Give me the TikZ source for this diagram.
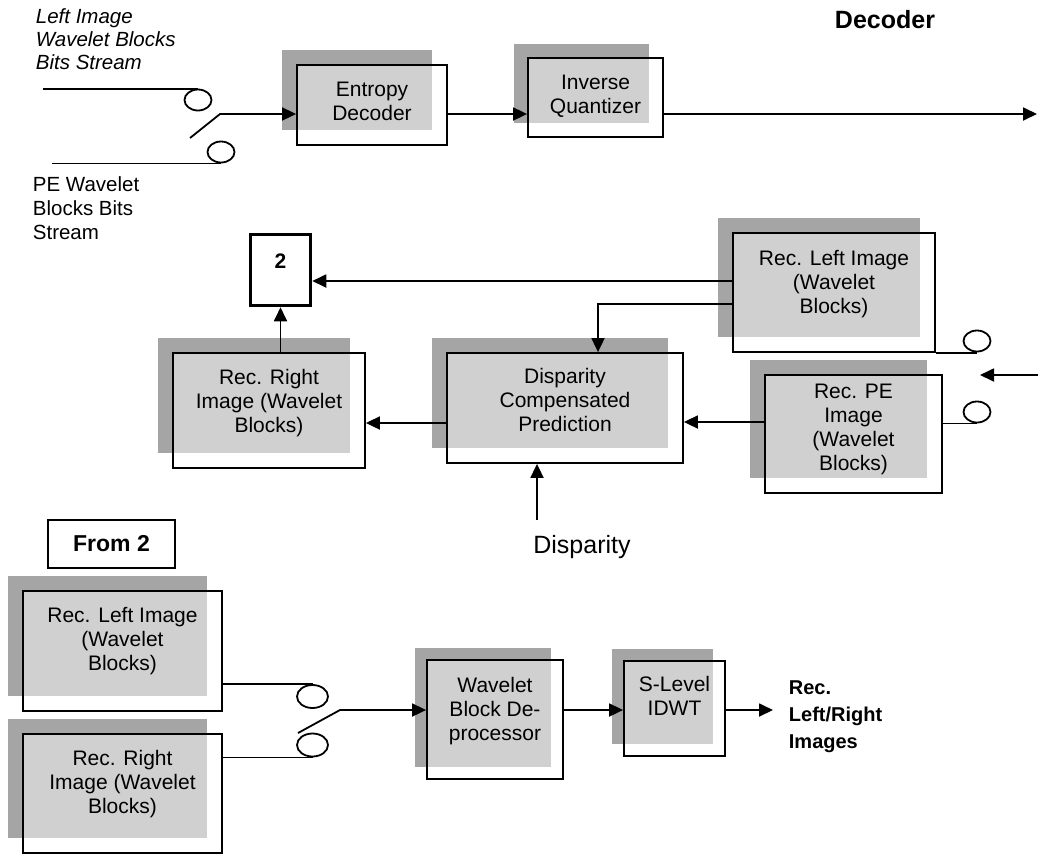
\documentclass[tikz,border=0pt]{standalone}
\usepackage{fontspec}
\setmainfont{Liberation Sans}
\usetikzlibrary{arrows.meta,shapes.geometric,shadows,calc}
\definecolor{shgray}{RGB}{165,165,165}
\definecolor{ovgray}{RGB}{208,208,208}
\newcommand{\bt}[2]{\raisebox{#1pt}[\height][\depth]{\begin{tabular}{@{}c@{}}#2\end{tabular}}}
\begin{document}
\begin{tikzpicture}[x=1pt,y=-1pt,
  line width=1.8pt,
  >={Triangle[length=14pt,width=13pt]},
  blk/.style={draw, rectangle, inner sep=0pt,
    font=\fontsize{21}{24}\selectfont,
    general shadow={fill=shgray, draw=none, shadow xshift=-#1pt, shadow yshift=#1pt},
    path picture={\fill[ovgray] (path picture bounding box.north west) rectangle
      ([xshift=-#1pt,yshift=#1pt]path picture bounding box.south east);}},
  blk/.default=15,
  contact/.style={draw, ellipse, inner sep=0pt, minimum width=27pt, minimum height=21pt},
  txt/.style={inner sep=0pt, font=\fontsize{21}{24}\selectfont},
]
\useasboundingbox (0,0) rectangle (1038,855);

% ---------- top row ----------
\node[blk, minimum width=150pt, minimum height=80pt] (ed) at (372,105) {\bt{1}{Entropy\\Decoder}};
\node[blk=14.5, minimum width=135pt, minimum height=79pt] (iq) at (595.5,97.5) {\bt{1}{Inverse\\Quantizer}};
\node[txt, anchor=base, font=\bfseries\fontsize{25}{30}\selectfont] (dec) at (885,28) {Decoder};
\node[txt, anchor=west, font=\itshape\fontsize{20.5}{23}\selectfont] (lin) at (35,42)
  {\begin{tabular}{@{}l@{}}Left Image\\Wavelet Blocks\\Bits Stream\end{tabular}};
\node[txt, anchor=west, font=\fontsize{20.5}{24}\selectfont] (pein) at (32,211)
  {\begin{tabular}{@{}l@{}}PE Wavelet\\Blocks Bits\\Stream\end{tabular}};

\node[contact] (c1) at (198,100) {};
\node[contact] (c2) at (221,152) {};
\coordinate (a1) at (43,0);
\coordinate (a2) at (52,0);
\draw (a1 |- c1.north) -- (c1.north);
\draw (a2 |- c2.south) -- (c2.south);
\coordinate (l1) at (190,138);
\coordinate (l2) at (220,114);
\draw[->] (l1) -- (l2) -- (l2 -| ed.west);
\draw[->] (ed.east |- l2) -- (iq.west |- l2);
\coordinate (o1) at (1037,114);
\draw[->] (iq.east |- o1) -- (o1);

% ---------- middle row ----------
\node[blk, minimum width=202pt, minimum height=119pt] (rl) at (834,292.5) {\bt{8}{Rec. Left Image\\(Wavelet\\Blocks)}};
\node[blk, minimum width=177pt, minimum height=118pt] (pe) at (853.5,434) {\bt{4}{Rec. PE\\Image\\(Wavelet\\Blocks)}};
\node[blk, minimum width=236pt, minimum height=110pt] (dcp) at (565,408) {\bt{5}{Disparity\\Compensated\\Prediction}};
\node[blk, minimum width=192pt, minimum height=115pt] (rr) at (269,410.5) {\bt{7}{Rec. Right\\Image (Wavelet\\Blocks)}};
\node[draw, line width=3.5pt, minimum width=60pt, minimum height=71pt, inner sep=0pt,
  font=\bfseries\fontsize{21}{24}\selectfont] (two) at (280.5,270) {\raisebox{9pt}[\height][\depth]{2}};

\node[contact] (c3) at (977,341) {};
\node[contact] (c4) at (977,412) {};
\draw (rl.south east) -- (rl.south east -| c3.south);
\draw (pe.east |- c4.south) -- (c4.south);
\coordinate (i2) at (1038,375);
\coordinate (i2e) at (980,375);
\draw[->] (i2) -- (i2e);
\coordinate (k2) at (0,281);
\draw[->] (rl.west |- k2) -- (two.east |- k2);
\coordinate (k1) at (598,304);
\draw[->] (rl.west |- k1) -- (k1) -- (k1 |- dcp.north);
\coordinate (k3) at (0,422);
\draw[->] (pe.west |- k3) -- (dcp.east |- k3);
\coordinate (k4) at (0,423);
\draw[->] (dcp.west |- k4) -- (rr.east |- k4);
\draw[->] (rr.north -| two.south) -- (two.south);
\node[txt, anchor=base, font=\fontsize{25}{30}\selectfont] (disp) at (582,553) {Disparity};
\coordinate (d0) at (537,520);
\draw[->] (d0) -- (d0 |- dcp.south);

% ---------- bottom row ----------
\node[draw, minimum width=127pt, minimum height=48pt, inner sep=0pt,
  font=\bfseries\fontsize{23}{28}\selectfont] (from) at (111.5,544) {From 2};
\node[blk, minimum width=199pt, minimum height=120pt] (bl) at (122.5,651) {\bt{9}{Rec. Left Image\\(Wavelet\\Blocks)}};
\node[blk, minimum width=199pt, minimum height=119pt] (br) at (122.5,793.5) {\bt{8.5}{Rec. Right\\Image (Wavelet\\Blocks)}};
\node[contact, minimum width=31pt, minimum height=23pt] (c5) at (312.5,696.5) {};
\node[contact, minimum width=31pt, minimum height=23pt] (c6) at (312.5,745) {};
\draw (bl.east |- c5.north) -- (c5.north);
\draw (br.east |- c6.south) -- (c6.south);
\node[blk=12.5, minimum width=136pt, minimum height=119pt] (wb) at (495,719.5) {\bt{7.5}{Wavelet\\Block De-\\processor}};
\node[blk=12.5, minimum width=101pt, minimum height=95pt] (sl) at (674.5,708.5) {\bt{9.5}{S-Level\\IDWT}};
\coordinate (l3) at (298,733);
\coordinate (l4) at (340,710);
\draw[->] (l3) -- (l4) -- (l4 -| wb.west);
\draw[->] (wb.east |- l4) -- (sl.west |- l4);
\coordinate (o3) at (773,710);
\draw[->] (sl.east |- o3) -- (o3);
\node[txt, anchor=west, font=\bfseries\fontsize{20}{27}\selectfont] (outl) at (788,716)
  {\begin{tabular}{@{}l@{}}Rec.\\Left/Right\\Images\end{tabular}};
\end{tikzpicture}
\end{document}
